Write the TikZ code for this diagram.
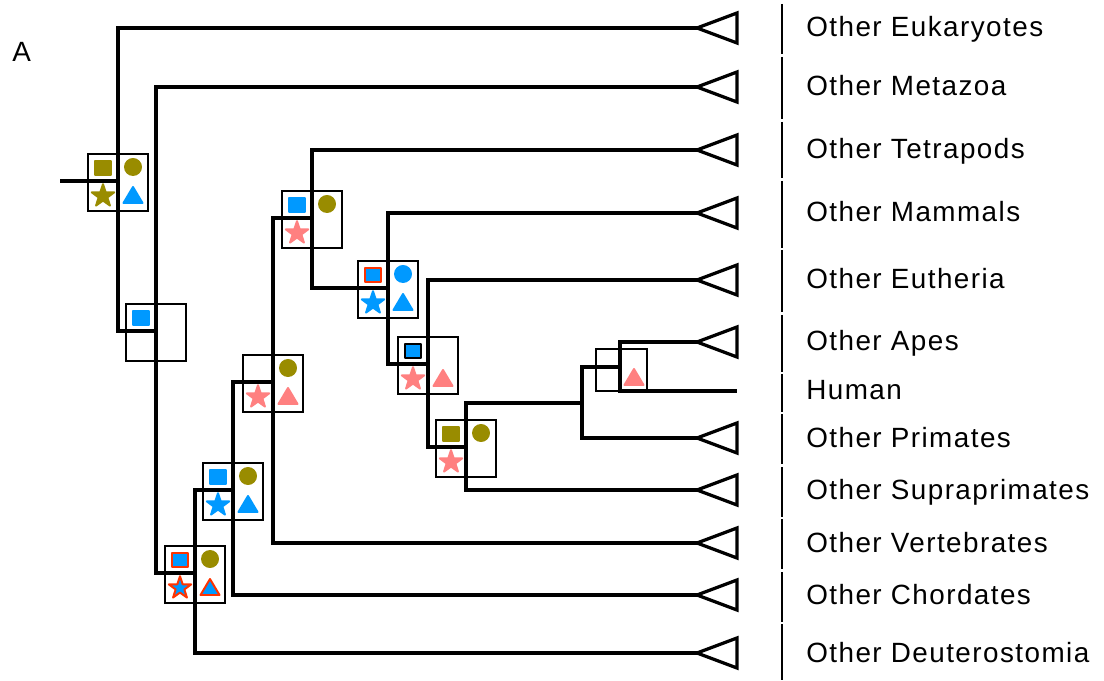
\documentclass[tikz,border=0pt]{standalone}
\usepackage{fontspec}
\setmainfont{Liberation Sans}[LetterSpace=5.2]
\definecolor{symblau}{RGB}{0,153,255}
\definecolor{symoliv}{RGB}{153,140,0}
\definecolor{symlachs}{RGB}{255,128,128}
\definecolor{symrot}{RGB}{255,51,0}
\tikzset{
	ast/.style={line width=2.3pt},
	spitze/.style={line width=2.3pt, line join=miter},
	kasten/.style={line width=0.95pt},
	trenner/.style={line width=0.95pt},
	symbol/.style={line width=1.4pt, line join=round},
	taxon/.style={anchor=base west, inner sep=0pt}
}
% Symbole: Quadrat oben links, Kreis oben rechts, Stern unten links, Dreieck unten rechts
\newcommand{\Quadrat}[3]{\filldraw [symbol, shift={(#1)}, shift={(-15,-13)}, fill=#2, draw=#3] (-8,-7) rectangle (8,7);}
\newcommand{\Kreis}[2]{\filldraw [symbol, shift={(#1)}, shift={(15,-14)}, fill=#2, draw=#2] (0,0) circle [radius=8];}
\newcommand{\Stern}[3]{\filldraw [symbol, shift={(#1)}, shift={(-15,15)}, fill=#2, draw=#3] (270:11.8) -- (306:4.6) -- (342:11.8) -- (18:4.6) -- (54:11.8) -- (90:4.6) -- (126:11.8) -- (162:4.6) -- (198:11.8) -- (234:4.6) -- cycle;}
\newcommand{\Dreieck}[4][15,15]{\filldraw [symbol, shift={(#2)}, shift={(#1)}, fill=#3, draw=#4] (0,-9) -- (9.5,7) -- (-9.5,7) -- cycle;}
\begin{document}
\begin{tikzpicture}[x=0.025cm, y=-0.025cm, font=\fontsize{19.8}{24}\selectfont]
	\useasboundingbox (0,0) rectangle (1104,681);
	\node (marke) [taxon] at (12,62) {A};
	% Taxa, Trennlinien
	\foreach \n/\y/\a/\b/\t in {euk/28/4/54/Other Eukaryotes, met/87/57/119/Other Metazoa, tet/150/122/178/Other Tetrapods, mam/213/181/248/Other Mammals, eut/280/250/312/Other Eutheria, ape/342/315/372/Other Apes, hum/391/374/412/Human, pri/438/414/464/Other Primates, sup/490/467/517/Other Supraprimates, ver/543/519/569/Other Vertebrates, cho/595/572/622/Other Chordates, deu/653/624/680/Other Deuterostomia} {
		\coordinate (blatt-\n) at (697,\y);
		\node (name-\n) [taxon] at (806,\y+9) {\t};
		\draw [trenner] (782,\a) -- (782,\b);
	}
	\coordinate (blatt-hum) at (737,391);
	% Dreiecke
	\foreach \n in {euk,met,tet,mam,eut,ape,pri,sup,ver,cho,deu} {
		\draw [spitze] (blatt-\n) -- ++(40,-15) -- ++(0,30) -- cycle;
	}
	% Verzweigungen
	\coordinate (wurzel) at (60,181);
	\coordinate (k1) at (118,181);
	\coordinate (k2) at (156,331);
	\coordinate (k3) at (195,573);
	\coordinate (k4) at (233,490);
	\coordinate (k5) at (273,382);
	\coordinate (k6) at (312,218);
	\coordinate (k7) at (388,288);
	\coordinate (k8) at (428,364);
	\coordinate (k9) at (466,447);
	\coordinate (k10) at (582,403);
	\coordinate (k11) at (620,367);
	% Baum
	\draw [ast] (wurzel) -- (k1);
	\draw [ast] (k1) |- (blatt-euk);
	\draw [ast] (k1) |- (k2);
	\draw [ast] (k2) |- (blatt-met);
	\draw [ast] (k2) |- (k3);
	\draw [ast] (k3) |- (k4);
	\draw [ast] (k3) |- (blatt-deu);
	\draw [ast] (k4) |- (k5);
	\draw [ast] (k4) |- (blatt-cho);
	\draw [ast] (k5) |- (k6);
	\draw [ast] (k5) |- (blatt-ver);
	\draw [ast] (k6) |- (blatt-tet);
	\draw [ast] (k6) |- (k7);
	\draw [ast] (k7) |- (blatt-mam);
	\draw [ast] (k7) |- (k8);
	\draw [ast] (k8) |- (blatt-eut);
	\draw [ast] (k8) |- (k9);
	\draw [ast] (k9) |- (k10);
	\draw [ast] (k9) |- (blatt-sup);
	\draw [ast] (k10) |- (k11);
	\draw [ast] (k10) |- (blatt-pri);
	\draw [ast] (k11) |- (blatt-ape);
	\draw [ast] (k11) |- (blatt-hum);
	% Kaesten
	\foreach \k in {k1,k2,k3,k4,k5,k6,k7,k8,k9} {
		\draw [kasten, shift={(\k)}] (-30,-27) rectangle (30,30);
	}
	\draw [kasten, shift={(k11)}] (-24,-18) rectangle (27,24);
	% Symbole
	\Quadrat{k1}{symoliv}{symoliv} \Kreis{k1}{symoliv} \Stern{k1}{symoliv}{symoliv} \Dreieck{k1}{symblau}{symblau}
	\Quadrat{k2}{symblau}{symblau}
	\Quadrat{k3}{symblau}{symrot} \Kreis{k3}{symoliv} \Stern{k3}{symblau}{symrot} \Dreieck{k3}{symblau}{symrot}
	\Quadrat{k4}{symblau}{symblau} \Kreis{k4}{symoliv} \Stern{k4}{symblau}{symblau} \Dreieck{k4}{symblau}{symblau}
	\Kreis{k5}{symoliv} \Stern{k5}{symlachs}{symlachs} \Dreieck{k5}{symlachs}{symlachs}
	\Quadrat{k6}{symblau}{symblau} \Kreis{k6}{symoliv} \Stern{k6}{symlachs}{symlachs}
	\Quadrat{k7}{symblau}{symrot} \Kreis{k7}{symblau} \Stern{k7}{symblau}{symblau} \Dreieck{k7}{symblau}{symblau}
	\Quadrat{k8}{symblau}{black} \Stern{k8}{symlachs}{symlachs} \Dreieck{k8}{symlachs}{symlachs}
	\Quadrat{k9}{symoliv}{symoliv} \Kreis{k9}{symoliv} \Stern{k9}{symlachs}{symlachs}
	\Dreieck[14,11]{k11}{symlachs}{symlachs}
\end{tikzpicture}
\end{document}
